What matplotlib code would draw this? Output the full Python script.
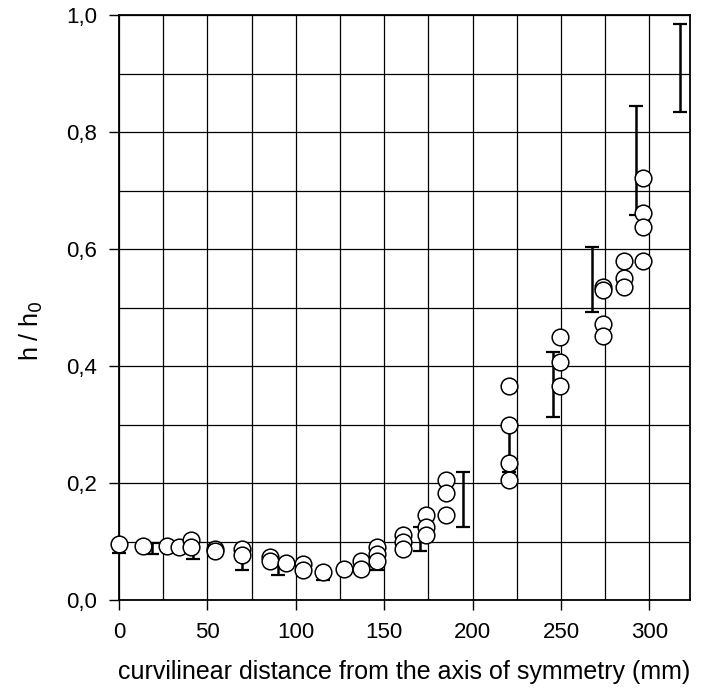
import matplotlib
matplotlib.use('Agg')
import matplotlib.pyplot as plt
from matplotlib.ticker import MultipleLocator, FuncFormatter

plt.rcParams['font.family'] = ['Liberation Sans', 'DejaVu Sans']

# measured points (open circles)
pts_x = [0, 13.4, 27, 33.9, 40.5, 40.5, 54.2, 54.2, 69.3, 69.3, 85.3, 85.3, 94.7,
         104, 104, 115.4, 127.3, 137, 137, 146, 146, 146,
         160.6, 160.6, 160.6, 173.8, 173.8, 173.8, 184.7, 184.7, 184.7,
         220.5, 220.5, 220.5, 220.5, 249.2, 249.2, 249.2,
         274, 274, 274, 274, 285.9, 285.9, 285.9, 296.6, 296.6, 296.6, 296.6]
pts_y = [0.095, 0.093, 0.093, 0.091, 0.103, 0.091, 0.088, 0.083, 0.087, 0.077, 0.074, 0.066, 0.063,
         0.061, 0.051, 0.048, 0.053, 0.066, 0.053, 0.090, 0.078, 0.066,
         0.111, 0.100, 0.088, 0.145, 0.125, 0.111, 0.205, 0.183, 0.145,
         0.366, 0.299, 0.235, 0.205, 0.450, 0.407, 0.366,
         0.535, 0.530, 0.472, 0.451, 0.580, 0.550, 0.535, 0.722, 0.662, 0.638, 0.580]

# error bars (low / high ends)
err_x = [0, 18.5, 42, 69.3, 90, 115.4, 146, 170, 194.5, 220.5, 245.4, 267.4, 292.5, 317.5]
err_lo = [0.081, 0.079, 0.070, 0.051, 0.043, 0.034, 0.051, 0.083, 0.125, 0.219, 0.313, 0.492, 0.658, 0.835]
err_hi = [0.097, 0.098, 0.095, 0.080, 0.065, 0.050, 0.070, 0.125, 0.219, 0.290, 0.424, 0.604, 0.844, 0.985]

fig = plt.figure(figsize=(7.11, 6.9), dpi=100)
ax = fig.add_axes([0.1674, 0.1304, 0.8031, 0.8478])

mid = [(a + b) / 2 for a, b in zip(err_lo, err_hi)]
half = [(b - a) / 2 for a, b in zip(err_lo, err_hi)]
ax.errorbar(err_x, mid, yerr=half, fmt='none', ecolor='black', elinewidth=1.8,
            capsize=5, capthick=1.6, zorder=3, clip_on=False)
ax.plot(pts_x, pts_y, 'o', ms=12, mfc='white', mec='black', mew=1.1, zorder=4, clip_on=False)

ax.set_xlim(0, 323)
ax.set_ylim(0, 1.0)
ax.xaxis.set_major_locator(MultipleLocator(50))
ax.xaxis.set_minor_locator(MultipleLocator(25))
ax.yaxis.set_major_locator(MultipleLocator(0.2))
ax.yaxis.set_minor_locator(MultipleLocator(0.1))
ax.yaxis.set_major_formatter(FuncFormatter(lambda v, p: ('%.1f' % v).replace('.', ',')))

ax.grid(which='both', color='black', lw=0.9)
ax.set_axisbelow(True)
ax.tick_params(which='major', direction='out', length=7, width=1, labelsize=16, pad=9)
ax.tick_params(which='minor', length=0)
for s in ax.spines.values():
    s.set_linewidth(1.3)

ax.set_xlabel('curvilinear distance from the axis of symmetry (mm)', fontsize=18, labelpad=12)
ax.set_ylabel('h / h$_0$', fontsize=18)
ax.yaxis.set_label_coords(-0.13, 0.46)

plt.savefig('out.png', dpi=100)
